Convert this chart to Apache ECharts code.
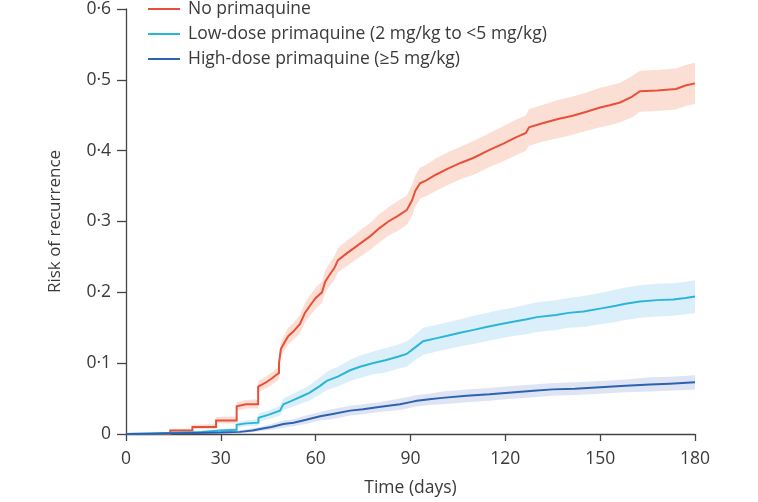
<!DOCTYPE html>
<html>
<head>
<meta charset="utf-8">
<script src="https://cdn.jsdelivr.net/npm/echarts@6/dist/echarts.min.js"></script>
<style>
html,body{margin:0;padding:0;background:#fff;}
#chart{width:758px;height:502px;}
</style>
</head>
<body>
<div id="chart"></div>
<script>
// ---------- DATA ----------
const seriesNames = ["No primaquine", "Low-dose primaquine (2 mg/kg to <5 mg/kg)", "High-dose primaquine (\u22655 mg/kg)"];
const xTicks = [0, 30, 60, 90, 120, 150, 180];
const yTicks = [0, 0.1, 0.2, 0.3, 0.4, 0.5, 0.6];

// No primaquine (repeated days = vertical steps)
const noDays = [0,14,14,21,21,28.5,28.5,35,35,38,41.8,41.8,44,46,47.7,48.4,48.4,49,50,51.3,53,55,56.6,58,60,62,63,64,66,67,69.8,72,75,77.2,80,83,86,88.8,90.5,91.5,93,95,98,102,106,110,115,119.4,123,126.5,127.5,132,137,141,145.7,150,153,156.3,160,162.6,168,174,177,180];
const noRisk = [0,0,0.005,0.005,0.01,0.01,0.019,0.019,0.039,0.042,0.042,0.067,0.072,0.078,0.084,0.086,0.10,0.12,0.128,0.138,0.145,0.155,0.171,0.18,0.192,0.2,0.215,0.222,0.235,0.245,0.255,0.262,0.272,0.279,0.29,0.3,0.308,0.316,0.33,0.343,0.354,0.358,0.366,0.375,0.383,0.39,0.401,0.41,0.418,0.425,0.433,0.439,0.445,0.449,0.455,0.461,0.464,0.468,0.476,0.484,0.485,0.487,0.492,0.495];
const noLo = [0,0,0.003,0.003,0.007,0.007,0.015,0.015,0.033,0.036,0.036,0.059,0.064,0.069,0.075,0.077,0.09,0.109,0.117,0.126,0.133,0.142,0.157,0.166,0.177,0.185,0.199,0.206,0.218,0.228,0.237,0.244,0.253,0.26,0.27,0.28,0.287,0.295,0.308,0.321,0.332,0.336,0.343,0.352,0.36,0.366,0.377,0.385,0.393,0.4,0.407,0.413,0.418,0.422,0.428,0.433,0.436,0.44,0.447,0.455,0.456,0.458,0.463,0.466];
const noHi = [0,0.002,0.007,0.008,0.013,0.014,0.024,0.025,0.045,0.048,0.049,0.075,0.08,0.087,0.093,0.095,0.11,0.131,0.139,0.15,0.157,0.168,0.185,0.194,0.207,0.215,0.231,0.238,0.252,0.262,0.273,0.28,0.291,0.298,0.31,0.32,0.329,0.337,0.352,0.365,0.376,0.38,0.389,0.398,0.406,0.414,0.425,0.435,0.443,0.45,0.459,0.465,0.472,0.476,0.482,0.489,0.492,0.496,0.505,0.513,0.514,0.516,0.521,0.524];

// Low-dose primaquine
const lowDays = [0,10,18,24,30,35,35,38,41.9,41.9,45,48.7,49.8,52,56,58,61.4,63.5,67,70.9,74,78,82,86,88.8,92,94,98,102,105.7,110,114,118.3,122,126.8,130,136,140,144.7,150,155,158,162.6,168,173.1,177,180];
const lowRisk = [0,0.001,0.002,0.003,0.005,0.006,0.013,0.015,0.016,0.023,0.027,0.033,0.042,0.046,0.054,0.058,0.068,0.075,0.081,0.09,0.095,0.1,0.104,0.109,0.113,0.124,0.131,0.135,0.139,0.143,0.147,0.151,0.155,0.158,0.162,0.165,0.168,0.171,0.173,0.177,0.181,0.184,0.187,0.189,0.19,0.192,0.194];
const lowLo = [0,0,0.001,0.002,0.003,0.004,0.009,0.011,0.012,0.017,0.021,0.026,0.034,0.037,0.044,0.047,0.056,0.062,0.067,0.075,0.079,0.084,0.087,0.092,0.095,0.106,0.112,0.116,0.12,0.124,0.127,0.131,0.135,0.138,0.141,0.144,0.147,0.15,0.151,0.155,0.158,0.161,0.164,0.166,0.167,0.169,0.171];
const lowHi = [0,0.002,0.003,0.005,0.007,0.009,0.017,0.019,0.021,0.029,0.033,0.04,0.05,0.055,0.064,0.069,0.08,0.088,0.095,0.105,0.111,0.116,0.121,0.126,0.131,0.142,0.15,0.154,0.158,0.162,0.167,0.171,0.175,0.178,0.183,0.186,0.189,0.192,0.195,0.199,0.204,0.207,0.21,0.212,0.213,0.215,0.217];

// High-dose primaquine
const highDays = [0,8,15,22,30,36,40,42.4,46,49.8,53,57,61.4,65,70.9,75,80,86.7,90,92,96,100,107.8,115,120,128.9,135,142,150,158,165.8,172,180];
const highRisk = [0,0.0005,0.001,0.0015,0.002,0.003,0.005,0.007,0.01,0.014,0.016,0.02,0.025,0.028,0.033,0.035,0.038,0.042,0.045,0.047,0.049,0.051,0.054,0.056,0.058,0.061,0.063,0.064,0.066,0.068,0.07,0.071,0.073];
const highLo = [0,0,0,0.0005,0.001,0.001,0.003,0.004,0.006,0.009,0.011,0.014,0.019,0.021,0.026,0.028,0.031,0.034,0.037,0.039,0.041,0.042,0.045,0.047,0.049,0.052,0.054,0.055,0.057,0.059,0.06,0.061,0.063];
const highHi = [0,0.001,0.002,0.003,0.004,0.005,0.008,0.01,0.014,0.019,0.021,0.026,0.031,0.035,0.04,0.042,0.045,0.05,0.053,0.055,0.057,0.06,0.063,0.065,0.067,0.07,0.072,0.073,0.075,0.077,0.08,0.081,0.083];

// ---------- STYLE ----------
const lineColors = ["#e8503a", "#2bb5d8", "#2d62b0"];
const bandColors = ["rgba(242,140,100,0.28)", "rgba(110,190,235,0.25)", "rgba(90,120,200,0.2)"];
const FONT = "Open Sans";
const TXT = "#3a3a3a";

function zip(a, b) { return a.map((v, i) => [v, b[i]]); }
function bandData(d, lo, hi) { return d.map((v, i) => [v, lo[i], hi[i]]); }

function bandSeries(days, lo, hi, color) {
  return {
    type: 'custom',
    silent: true,
    z: 1,
    data: bandData(days, lo, hi),
    encode: { x: 0, y: [1, 2] },
    renderItem: function (params, api) {
      if (params.dataIndex !== 0) return null;
      const pts = [];
      for (let i = 0; i < days.length; i++) pts.push(api.coord([days[i], hi[i]]));
      for (let i = days.length - 1; i >= 0; i--) pts.push(api.coord([days[i], lo[i]]));
      return { type: 'polygon', shape: { points: pts }, style: { fill: color, stroke: null } };
    }
  };
}

function lineSeries(name, days, vals, color) {
  return {
    name: name,
    type: 'line',
    z: 3,
    symbol: 'none',
    data: zip(days, vals),
    lineStyle: { color: color, width: 2, join: 'miter' },
    itemStyle: { color: color }
  };
}

const chart = echarts.init(document.getElementById('chart'), null, { renderer: 'canvas' });
chart.setOption({
  animation: false,
  backgroundColor: '#ffffff',
  textStyle: { fontFamily: FONT },
  grid: { left: 126, right: 63, top: 8, bottom: 67, containLabel: false },
  legend: {
    orient: 'vertical',
    left: 148,
    top: 0,
    padding: 0,
    itemWidth: 32,
    itemHeight: 2,
    itemGap: 7,
    icon: 'rect',
    data: seriesNames,
    textStyle: { fontFamily: FONT, fontSize: 17.5, color: TXT, lineHeight: 18, padding: [0, 0, 0, 3] }
  },
  xAxis: {
    type: 'value',
    min: xTicks[0],
    max: xTicks[xTicks.length - 1],
    interval: 30,
    name: 'Time (days)',
    nameLocation: 'middle',
    nameGap: 45,
    nameTextStyle: { fontFamily: FONT, fontSize: 17.5, color: TXT },
    axisLine: { show: true, lineStyle: { color: '#444', width: 1.3 } },
    axisTick: { show: true, length: 7, lineStyle: { color: '#444', width: 1.3 } },
    axisLabel: { fontFamily: FONT, fontSize: 17.5, color: TXT, margin: 16 },
    splitLine: { show: false }
  },
  yAxis: {
    type: 'value',
    min: yTicks[0],
    max: yTicks[yTicks.length - 1],
    interval: 0.1,
    name: 'Risk of recurrence',
    nameLocation: 'middle',
    nameGap: 62,
    nameTextStyle: { fontFamily: FONT, fontSize: 17, color: TXT },
    axisLine: { show: true, lineStyle: { color: '#444', width: 1.3 } },
    axisTick: { show: true, length: 9, lineStyle: { color: '#444', width: 1.3 } },
    axisLabel: {
      fontFamily: FONT, fontSize: 17.5, color: TXT, margin: 15,
      formatter: function (v) { return v === 0 ? '0' : v.toFixed(1).replace('.', '\u00b7'); }
    },
    splitLine: { show: false }
  },
  series: [
    bandSeries(noDays, noLo, noHi, bandColors[0]),
    bandSeries(lowDays, lowLo, lowHi, bandColors[1]),
    bandSeries(highDays, highLo, highHi, bandColors[2]),
    lineSeries(seriesNames[0], noDays, noRisk, lineColors[0]),
    lineSeries(seriesNames[1], lowDays, lowRisk, lineColors[1]),
    lineSeries(seriesNames[2], highDays, highRisk, lineColors[2])
  ]
});
</script>
</body>
</html>
